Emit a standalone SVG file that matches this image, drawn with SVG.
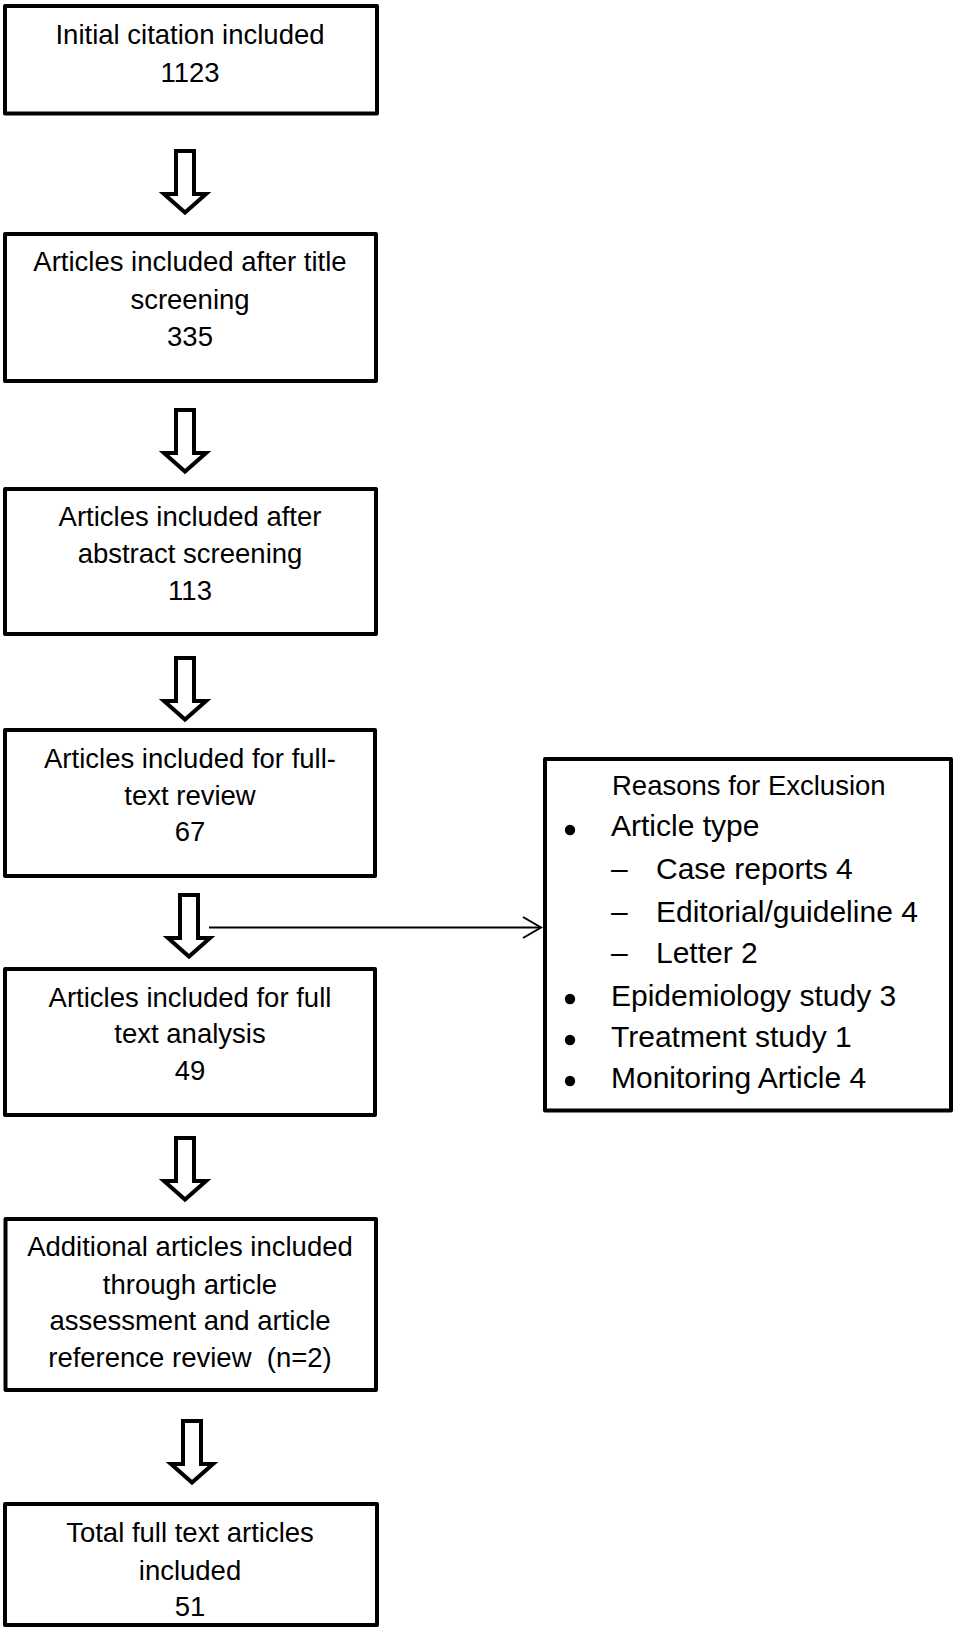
<svg xmlns="http://www.w3.org/2000/svg" width="953" height="1628" viewBox="0 0 953 1628">
<style>
.box{fill:#fff;stroke:#000;stroke-width:4;stroke-linejoin:round}
.t{font-family:"Liberation Sans",Arial,sans-serif;font-size:27.5px;fill:#000;text-anchor:middle}
.s{font-family:"Liberation Sans",Arial,sans-serif;font-size:30px;fill:#000}
.h{font-family:"Liberation Sans",Arial,sans-serif;font-size:27.5px;fill:#000}
.blk{fill:#fff;stroke:#000;stroke-width:4;stroke-linejoin:miter}
.ln{fill:none;stroke:#000;stroke-width:2}
</style>
<defs>
<path id="barrow" class="blk" d="M-9,2 L9,2 L9,45 L21,45 L0,63.5 L-21,45 L-9,45 Z"/>
<marker id="open" markerWidth="22" markerHeight="26" refX="19" refY="12" orient="auto" markerUnits="userSpaceOnUse">
<path d="M1,1.5 L19,12 L1,22.5" fill="none" stroke="#000" stroke-width="2"/>
</marker>
</defs>
<rect width="953" height="1628" fill="#fff"/>

<g id="connectors">
<use href="#barrow" x="185" y="149"/>
<use href="#barrow" x="185" y="408"/>
<use href="#barrow" x="185" y="656"/>
<use href="#barrow" x="189" y="893"/>
<use href="#barrow" x="185" y="1136"/>
<use href="#barrow" x="192" y="1419"/>
<line class="ln" x1="209" y1="927.5" x2="541" y2="927.5" marker-end="url(#open)"/>
</g>

<g id="n1">
<rect class="box" x="5" y="6" width="372" height="107.5"/>
<text class="t" x="190" y="44">Initial citation included</text>
<text class="t" x="190" y="82">1123</text>
</g>

<g id="n2">
<rect class="box" x="5" y="234" width="371" height="147"/>
<text class="t" x="190" y="271">Articles included after title</text>
<text class="t" x="190" y="309">screening</text>
<text class="t" x="190" y="346">335</text>
</g>

<g id="n3">
<rect class="box" x="5" y="489" width="371" height="145"/>
<text class="t" x="190" y="526">Articles included after</text>
<text class="t" x="190" y="563">abstract screening</text>
<text class="t" x="190" y="600">113</text>
</g>

<g id="n4">
<rect class="box" x="5" y="730" width="370" height="146"/>
<text class="t" x="190" y="768">Articles included for full-</text>
<text class="t" x="190" y="805">text review</text>
<text class="t" x="190" y="841">67</text>
</g>

<g id="n5">
<rect class="box" x="5" y="969" width="370" height="146"/>
<text class="t" x="190" y="1007">Articles included for full</text>
<text class="t" x="190" y="1043">text analysis</text>
<text class="t" x="190" y="1080">49</text>
</g>

<g id="n6">
<rect class="box" x="5.5" y="1219" width="370.5" height="171"/>
<text class="t" x="190" y="1256">Additional articles included</text>
<text class="t" x="190" y="1294">through article</text>
<text class="t" x="190" y="1330">assessment and article</text>
<text class="t" x="190" y="1367" xml:space="preserve">reference review  (n=2)</text>
</g>

<g id="n7">
<rect class="box" x="5" y="1504" width="372" height="121"/>
<text class="t" x="190" y="1542">Total full text articles</text>
<text class="t" x="190" y="1580">included</text>
<text class="t" x="190" y="1616">51</text>
</g>

<g id="exclusion">
<rect class="box" x="545" y="759" width="406" height="351.5"/>
<text class="h" x="612" y="795">Reasons for Exclusion</text>
<circle cx="570" cy="830" r="5.2"/>
<text class="s" x="611" y="836">Article type</text>
<text class="s" x="611" y="879">–</text>
<text class="s" x="656" y="879">Case reports 4</text>
<text class="s" x="611" y="922">–</text>
<text class="s" x="656" y="922">Editorial/guideline 4</text>
<text class="s" x="611" y="963">–</text>
<text class="s" x="656" y="963">Letter 2</text>
<circle cx="570" cy="999" r="5.2"/>
<text class="s" x="611" y="1006">Epidemiology study 3</text>
<circle cx="570" cy="1040" r="5.2"/>
<text class="s" x="611" y="1047">Treatment study 1</text>
<circle cx="570" cy="1081" r="5.2"/>
<text class="s" x="611" y="1088">Monitoring Article 4</text>
</g>
</svg>
